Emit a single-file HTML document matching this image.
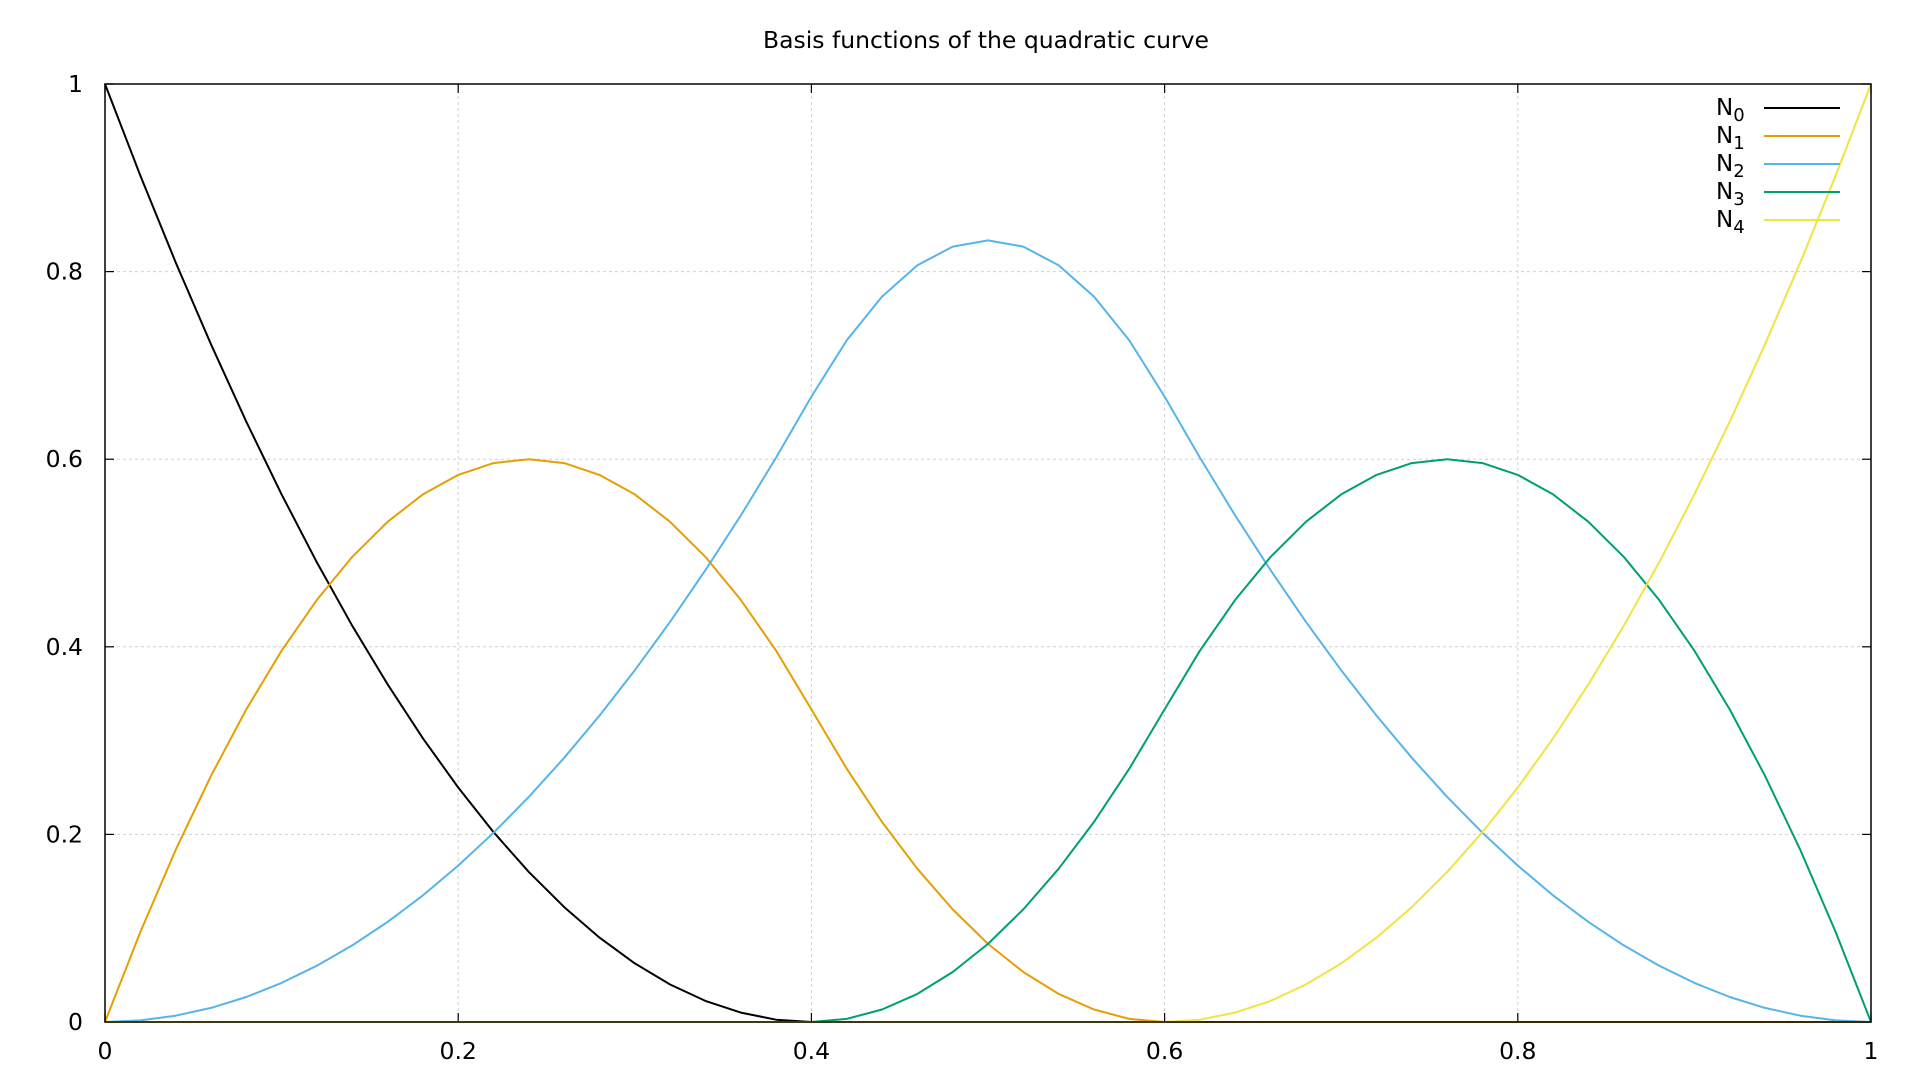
<!DOCTYPE html>
<html><head><meta charset="utf-8"><style>
html,body{margin:0;padding:0;background:#fff;}
svg{display:block;font-family:"DejaVu Sans","Liberation Sans",sans-serif;}
</style></head><body>
<svg id="chart" width="1920" height="1080" viewBox="0 0 1920 1080" xmlns="http://www.w3.org/2000/svg">
<rect width="1920" height="1080" fill="#fff"/>
<text x="986" y="48" font-size="23.5" text-anchor="middle">Basis functions of the quadratic curve</text>
<g id="grid"></g><g id="ticks"></g><g id="series"></g>
<rect x="105" y="84" width="1766" height="938" fill="none" stroke="#000" stroke-width="1.5"/>
<g id="legend"></g>
</svg>
<script>
const xs=[0,.02,.04,.06,.08,.1,.12,.14,.16,.18,.2,.22,.24,.26,.28,.3,.32,.34,.36,.38,.4,.42,.44,.46,.48,.5,.52,.54,.56,.58,.6,.62,.64,.66,.68,.7,.72,.74,.76,.78,.8,.82,.84,.86,.88,.9,.92,.94,.96,.98,1];
const n0=[1,.9025,.81,.7225,.64,.5625,.49,.4225,.36,.3025,.25,.2025,.16,.1225,.09,.0625,.04,.0225,.01,.0025,0,0,0,0,0,0,0,0,0,0,0,0,0,0,0,0,0,0,0,0,0,0,0,0,0,0,0,0,0,0,0];
const n1=[0,.0958,.1833,.2625,.3333,.3958,.45,.4958,.5333,.5625,.5833,.5958,.6,.5958,.5833,.5625,.5333,.4958,.45,.3958,.3333,.27,.2133,.1633,.12,.0833,.0533,.03,.0133,.0033,0,0,0,0,0,0,0,0,0,0,0,0,0,0,0,0,0,0,0,0,0];
const n2=[0,.0017,.0067,.015,.0267,.0417,.06,.0817,.1067,.135,.1667,.2017,.24,.2817,.3267,.375,.4267,.4817,.54,.6017,.6667,.7267,.7733,.8067,.8267,.8333,.8267,.8067,.7733,.7267,.6667,.6017,.54,.4817,.4267,.375,.3267,.2817,.24,.2017,.1667,.135,.1067,.0817,.06,.0417,.0267,.015,.0067,.0017,0];
const n3=[0,0,0,0,0,0,0,0,0,0,0,0,0,0,0,0,0,0,0,0,0,.0033,.0133,.03,.0533,.0833,.12,.1633,.2133,.27,.3333,.3958,.45,.4958,.5333,.5625,.5833,.5958,.6,.5958,.5833,.5625,.5333,.4958,.45,.3958,.3333,.2625,.1833,.0958,0];
const n4=[0,0,0,0,0,0,0,0,0,0,0,0,0,0,0,0,0,0,0,0,0,0,0,0,0,0,0,0,0,0,0,.0025,.01,.0225,.04,.0625,.09,.1225,.16,.2025,.25,.3025,.36,.4225,.49,.5625,.64,.7225,.81,.9025,1];
const seriesNames=["0","1","2","3","4"];
const xTicks=[0,0.2,0.4,0.6,0.8,1];
const yTicks=[0,0.2,0.4,0.6,0.8,1];
const xTickLabels=["0","0.2","0.4","0.6","0.8","1"];
const yTickLabels=["0","0.2","0.4","0.6","0.8","1"];
const colors=["#000000","#e69f00","#56b4e9","#009e73","#f0e442"];
const L=105,R=1871,T=84,B=1022;
const sx=v=>L+v*(R-L), sy=v=>B-v*(B-T);
const NS="http://www.w3.org/2000/svg";
function mk(tag,attrs,parent){const e=document.createElementNS(NS,tag);for(const k in attrs)e.setAttribute(k,attrs[k]);parent.appendChild(e);return e;}
const grid=document.getElementById('grid'),ticks=document.getElementById('ticks');
xTicks.forEach((v,i)=>{
  if(v>0&&v<1){const g=mk('line',{x1:sx(v),x2:sx(v),y1:T,y2:B,stroke:'#d0d0d0','stroke-width':1,'stroke-dasharray':'3,3'},grid);
  
  }
  const t1=mk('line',{x1:sx(v),x2:sx(v),y1:B,y2:B-9,stroke:'#000','stroke-width':1.2},ticks);
  
  
  const t2=mk('line',{x1:sx(v),x2:sx(v),y1:T,y2:T+9,stroke:'#000','stroke-width':1.2},ticks);
  
  
  const tx=mk('text',{x:sx(v),y:1059,'font-size':23.5,'text-anchor':'middle'},ticks);tx.textContent=xTickLabels[i];
  
  
});
yTicks.forEach((v,i)=>{
  if(v>0&&v<1){const g=mk('line',{x1:L,x2:R,y1:sy(v),y2:sy(v),stroke:'#d0d0d0','stroke-width':1,'stroke-dasharray':'3,3'},grid);
  
  }
  const t1=mk('line',{x1:L,x2:L+9,y1:sy(v),y2:sy(v),stroke:'#000','stroke-width':1.2},ticks);
  
  
  const t2=mk('line',{x1:R,x2:R-9,y1:sy(v),y2:sy(v),stroke:'#000','stroke-width':1.2},ticks);
  
  
  const tx=mk('text',{x:83,y:sy(v)+8,'font-size':23.5,'text-anchor':'end'},ticks);tx.textContent=yTickLabels[i];
  
  
});
const series=document.getElementById('series'),legend=document.getElementById('legend');
[n0,n1,n2,n3,n4].forEach((ys,k)=>{
  const pts=xs.map((x,i)=>sx(x).toFixed(1)+','+sy(ys[i]).toFixed(1)).join(' ');
  const p=mk('polyline',{points:pts,fill:'none',stroke:colors[k],'stroke-width':2,'stroke-linejoin':'round'},series);
  
  
  const y=108+28*k;
  const t=mk('text',{x:1716,y:y+7,'font-size':23},legend);
  
  
  t.appendChild(document.createTextNode('N'));
  const s=mk('tspan',{'font-size':18,dy:6},t);s.textContent=seriesNames[k];
  const ln=mk('line',{x1:1764,x2:1840,y1:y,y2:y,stroke:colors[k],'stroke-width':2},legend);
  
  
});
</script>
</body></html>
